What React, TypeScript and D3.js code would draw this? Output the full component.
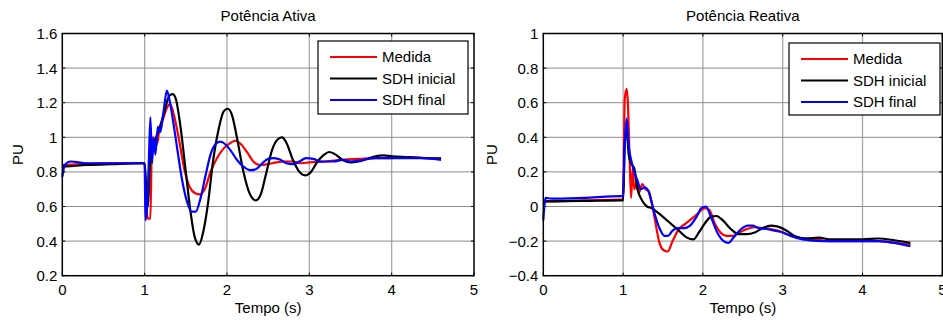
import React from 'react'
import * as d3 from 'd3'

// time ticks (s)
const xTicks = [0, 1, 2, 3, 4, 5]
const ativaTicks = [0.2, 0.4, 0.6, 0.8, 1, 1.2, 1.4, 1.6]
const reativaTicks = [-0.4, -0.2, 0, 0.2, 0.4, 0.6, 0.8, 1]

const seriesNames = ['Medida', 'SDH inicial', 'SDH final']
const seriesColors = ['#ff0000', '#000000', '#0000ff']

// Potência Ativa [t, pu]
const ativaMedida = [
  [0, 0.84], [0.5, 0.85], [0.98, 0.85], [1.0, 0.85], [1.02, 0.6], [1.04, 0.53], [1.07, 0.53],
  [1.09, 1.0], [1.12, 0.98], [1.15, 0.96], [1.18, 1.05], [1.22, 1.1], [1.27, 1.17], [1.31, 1.19],
  [1.36, 1.12], [1.42, 0.98], [1.48, 0.82], [1.55, 0.71], [1.62, 0.675], [1.67, 0.67], [1.73, 0.7],
  [1.8, 0.8], [1.88, 0.88], [1.95, 0.93], [2.02, 0.96], [2.1, 0.98], [2.17, 0.96], [2.25, 0.91],
  [2.32, 0.86], [2.4, 0.84], [2.5, 0.845], [2.6, 0.855], [2.7, 0.86], [2.8, 0.86], [2.9, 0.85],
  [3.0, 0.855], [3.2, 0.86], [3.4, 0.87], [3.6, 0.875], [3.8, 0.88], [4.0, 0.88], [4.2, 0.885],
  [4.4, 0.88], [4.6, 0.88]
]
const ativaInicial = [
  [0, 0.83], [0.3, 0.84], [0.6, 0.845], [0.98, 0.85], [1.0, 0.85], [1.02, 0.7], [1.04, 0.6],
  [1.06, 0.8], [1.08, 0.95], [1.1, 0.92], [1.14, 1.0], [1.18, 1.05], [1.24, 1.15], [1.3, 1.24],
  [1.34, 1.25], [1.38, 1.22], [1.43, 1.08], [1.5, 0.8], [1.56, 0.56], [1.61, 0.42], [1.66, 0.38],
  [1.71, 0.45], [1.77, 0.62], [1.83, 0.86], [1.9, 1.05], [1.96, 1.15], [2.01, 1.165], [2.06, 1.13],
  [2.12, 1.0], [2.2, 0.8], [2.28, 0.67], [2.35, 0.635], [2.41, 0.67], [2.48, 0.8], [2.55, 0.93],
  [2.62, 0.99], [2.67, 1.0], [2.72, 0.97], [2.8, 0.87], [2.88, 0.8], [2.95, 0.78], [3.02, 0.8],
  [3.1, 0.86], [3.18, 0.9], [3.24, 0.915], [3.32, 0.9], [3.4, 0.87], [3.5, 0.855], [3.6, 0.86],
  [3.7, 0.875], [3.8, 0.89], [3.9, 0.895], [4.0, 0.89], [4.2, 0.885], [4.4, 0.88], [4.6, 0.875]
]
const ativaFinal = [
  [0, 0.77], [0.03, 0.84], [0.1, 0.86], [0.3, 0.85], [0.6, 0.85], [0.98, 0.85], [1.0, 0.85],
  [1.01, 0.52], [1.03, 0.6], [1.05, 0.85], [1.07, 1.115], [1.09, 0.85], [1.11, 1.0], [1.13, 0.9],
  [1.16, 1.06], [1.19, 1.03], [1.23, 1.15], [1.27, 1.27], [1.3, 1.22], [1.35, 1.08], [1.4, 0.92],
  [1.46, 0.74], [1.52, 0.62], [1.57, 0.57], [1.62, 0.57], [1.68, 0.65], [1.74, 0.78], [1.8, 0.9],
  [1.86, 0.96], [1.92, 0.975], [1.98, 0.96], [2.05, 0.92], [2.12, 0.87], [2.2, 0.83], [2.28, 0.81],
  [2.35, 0.815], [2.43, 0.85], [2.5, 0.875], [2.57, 0.88], [2.65, 0.87], [2.72, 0.85], [2.8, 0.845],
  [2.88, 0.86], [2.96, 0.88], [3.05, 0.875], [3.15, 0.86], [3.3, 0.86], [3.4, 0.87], [3.5, 0.86],
  [3.6, 0.865], [3.8, 0.88], [4.0, 0.88], [4.2, 0.88], [4.4, 0.88], [4.6, 0.87]
]

// Potência Reativa [t, pu]
const reativaMedida = [
  [0, 0.03], [0.03, 0.03], [0.5, 0.035], [0.98, 0.04], [1.0, 0.04], [1.02, 0.62], [1.045, 0.68],
  [1.06, 0.6], [1.08, 0.3], [1.1, 0.05], [1.12, 0.22], [1.14, 0.1], [1.17, 0.14], [1.2, 0.08],
  [1.24, 0.13], [1.28, 0.1], [1.32, 0.09], [1.36, 0.02], [1.4, -0.08], [1.45, -0.2], [1.5, -0.25],
  [1.56, -0.26], [1.62, -0.2], [1.7, -0.13], [1.78, -0.1], [1.86, -0.07], [1.94, -0.04], [2.02, -0.01],
  [2.08, -0.02], [2.15, -0.1], [2.22, -0.15], [2.3, -0.17], [2.38, -0.17], [2.46, -0.15], [2.55, -0.13],
  [2.65, -0.12], [2.75, -0.125], [2.85, -0.13], [2.95, -0.14], [3.05, -0.16], [3.2, -0.18], [3.4, -0.19],
  [3.6, -0.2], [3.8, -0.2], [4.0, -0.2], [4.2, -0.2], [4.4, -0.21], [4.6, -0.22]
]
const reativaInicial = [
  [0, 0.03], [0.5, 0.032], [0.98, 0.035], [1.0, 0.035], [1.02, 0.35], [1.045, 0.45], [1.07, 0.3],
  [1.1, 0.25], [1.14, 0.22], [1.18, 0.1], [1.22, 0.05], [1.26, 0.02], [1.3, 0.0], [1.36, -0.01],
  [1.42, -0.03], [1.5, -0.06], [1.6, -0.1], [1.7, -0.14], [1.8, -0.18], [1.88, -0.19], [1.95, -0.15],
  [2.02, -0.1], [2.1, -0.06], [2.17, -0.055], [2.25, -0.08], [2.35, -0.13], [2.45, -0.16], [2.55, -0.16],
  [2.65, -0.15], [2.75, -0.125], [2.85, -0.11], [2.93, -0.115], [3.05, -0.14], [3.15, -0.17],
  [3.3, -0.185], [3.45, -0.18], [3.6, -0.19], [3.8, -0.19], [4.0, -0.19], [4.2, -0.185], [4.4, -0.195],
  [4.6, -0.21]
]
const reativaFinal = [
  [0, -0.08], [0.03, 0.05], [0.1, 0.045], [0.5, 0.05], [0.98, 0.06], [1.0, 0.06], [1.02, 0.35],
  [1.045, 0.51], [1.07, 0.35], [1.1, 0.27], [1.14, 0.2], [1.18, 0.15], [1.22, 0.1], [1.27, 0.11],
  [1.32, 0.085], [1.36, 0.02], [1.4, -0.05], [1.46, -0.13], [1.52, -0.17], [1.56, -0.17], [1.62, -0.14],
  [1.68, -0.125], [1.76, -0.125], [1.84, -0.11], [1.92, -0.06], [1.98, -0.01], [2.04, 0.0], [2.1, -0.06],
  [2.18, -0.15], [2.26, -0.2], [2.32, -0.21], [2.4, -0.17], [2.48, -0.13], [2.56, -0.11], [2.62, -0.11],
  [2.7, -0.125], [2.8, -0.13], [2.9, -0.14], [3.0, -0.15], [3.1, -0.17], [3.25, -0.19], [3.5, -0.2],
  [3.8, -0.2], [4.0, -0.2], [4.2, -0.2], [4.4, -0.21], [4.6, -0.23]
]

const FONT = '"Liberation Sans", Arial, sans-serif'

type Pt = number[]

const Panel = ({ left, right, title, yTicks, series, legendBox, labelX }: {
  left: number, right: number, title: string, yTicks: number[], series: Pt[][],
  legendBox: { x: number, y: number, w: number, h: number }, labelX: number
}) => {
  const top = 33.5
  const bottom = 275.7
  const x = d3.scaleLinear().domain([0, 5]).range([left, right])
  const y = d3.scaleLinear().domain([yTicks[0], yTicks[yTicks.length - 1]]).range([bottom, top])
  const line = d3.line<Pt>().x(d => x(d[0])).y(d => y(d[1])).curve(d3.curveMonotoneX)
  const tk = 3

  return (
    <g fontFamily={FONT}>
      <rect x={left} y={top} width={right - left} height={bottom - top} fill="#fff" />
      {/* grid */}
      {xTicks.slice(1, -1).map(t => (
        <line key={'gx' + t} x1={x(t)} x2={x(t)} y1={top} y2={bottom} stroke="#a8a8a8" strokeWidth={1.3} />
      ))}
      {yTicks.slice(1, -1).map(t => (
        <line key={'gy' + t} x1={left} x2={right} y1={y(t)} y2={y(t)} stroke="#8c8c8c" strokeWidth={1} />
      ))}
      {/* series */}
      {series.map((s, i) => (
        <path key={i} d={line(s) || ''} fill="none" stroke={seriesColors[i]} strokeWidth={2.2} strokeLinejoin="round" />
      ))}
      {/* box + ticks */}
      <rect x={left} y={top} width={right - left} height={bottom - top} fill="none" stroke="#000" strokeWidth={1.5} />
      {xTicks.map(t => (
        <g key={'tx' + t}>
          <line x1={x(t)} x2={x(t)} y1={bottom} y2={bottom - tk} stroke="#000" />
          <line x1={x(t)} x2={x(t)} y1={top} y2={top + tk} stroke="#000" />
          <text x={x(t)} y={295} textAnchor="middle" fontSize={15} fill="#000">{t}</text>
        </g>
      ))}
      {yTicks.map(t => (
        <g key={'ty' + t}>
          <line x1={left} x2={left + tk} y1={y(t)} y2={y(t)} stroke="#000" />
          <line x1={right} x2={right - tk} y1={y(t)} y2={y(t)} stroke="#000" />
          <text x={left - 5} y={y(t)} dy="0.36em" textAnchor="end" fontSize={15} fill="#000">{d3.format('')(+t.toFixed(1))}</text>
        </g>
      ))}
      {/* titles */}
      <text x={(left + right) / 2} y={21} textAnchor="middle" fontSize={15} fill="#000">{title}</text>
      <text x={(left + right) / 2} y={313} textAnchor="middle" fontSize={15} fill="#000">Tempo (s)</text>
      <text transform={`translate(${labelX},${(top + bottom) / 2}) rotate(-90)`} textAnchor="middle" fontSize={15} fill="#000">PU</text>
      {/* legend */}
      <rect x={legendBox.x} y={legendBox.y} width={legendBox.w} height={legendBox.h} fill="#fff" stroke="#000" strokeWidth={1.2} />
      {seriesNames.map((n, i) => {
        const cy = legendBox.y + 16 + i * 21.5
        return (
          <g key={n}>
            <line x1={legendBox.x + 12} x2={legendBox.x + 59} y1={cy} y2={cy} stroke={seriesColors[i]} strokeWidth={2.2} />
            <text x={legendBox.x + 64} y={cy} dy="0.36em" fontSize={15} fill="#000">{n}</text>
          </g>
        )
      })}
    </g>
  )
}

export default function App() {
  return (
    <svg width={943} height={320} style={{ position: 'fixed', left: 0, top: 0, background: '#fff' }}>
      <rect width={943} height={320} fill="#fff" />
      <Panel left={62.3} right={474} title="Potência Ativa" yTicks={ativaTicks}
        series={[ativaMedida, ativaInicial, ativaFinal]}
        legendBox={{ x: 318, y: 41, w: 150, h: 73 }} labelX={23} />
      <Panel left={543.3} right={942.3} title="Potência Reativa" yTicks={reativaTicks}
        series={[reativaMedida, reativaInicial, reativaFinal]}
        legendBox={{ x: 789, y: 43, w: 151, h: 72 }} labelX={497} />
    </svg>
  )
}
